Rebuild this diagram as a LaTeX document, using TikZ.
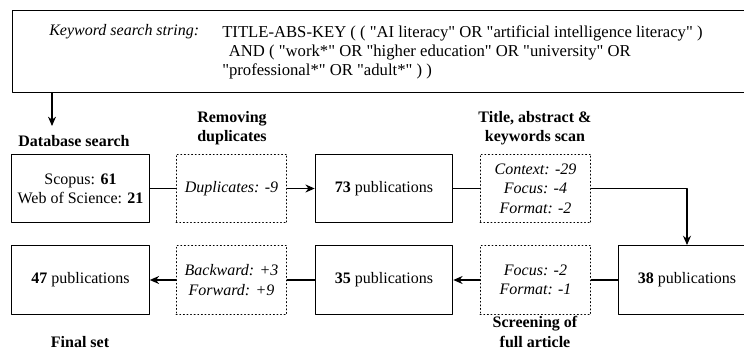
\documentclass[tikz,border=0pt,12pt]{standalone}
\usepackage{fontspec}
\setmainfont{Liberation Serif}[Ligatures=TeXOff, BoldFont={Liberation Serif Bold}, ItalicFont={Liberation Serif Italic}, BoldItalicFont={Liberation Serif Bold Italic}]
\usetikzlibrary{arrows.meta}
\newcommand{\dq}[1]{"#1"}

\tikzset{
  box/.style={draw, line width=0.9pt, minimum width=103pt, minimum height=51.5pt, inner sep=0pt, align=center},
  filt/.style={draw, dotted, line width=0.7pt, minimum width=83pt, minimum height=51.5pt, inner sep=0pt, align=center, font=\itshape},
  stage/.style={font=\bfseries, align=center, inner sep=0pt},
}

\begin{document}
\begin{tikzpicture}[line cap=round,line join=round,>={Stealth[length=7pt,width=6pt]},x=0.75pt,y=-0.75pt]
		\useasboundingbox (0,0) rectangle (744,360);
		\clip (0,0) rectangle (744,360);
		%%%%%%%%%%%%%%%%%%%%% S E A R C H %%%%%%%%%%%%%%%%%%%%%
		\node [draw, line width=0.9pt, anchor=north west, minimum width=562pt, minimum height=61.5pt, inner sep=0pt] (search) at (12,10) {};
		\node [anchor=base west, inner sep=0pt, font=\itshape] (kwlabel) at (49,36) {Keyword search string:};
		\node [anchor=north west, inner sep=0pt, align=left, font=\fontsize{12.5pt}{14.5pt}\selectfont] (query) at (222,25) {TITLE-ABS-KEY ( ( \dq{AI literacy} OR \dq{artificial intelligence literacy} )\\\hspace*{5pt}AND ( \dq{work*} OR \dq{higher education} OR \dq{university} OR\\\dq{professional*} OR \dq{adult*} ) )};
		\coordinate (dbin) at (52,126);

		%%%% ROW 1
		\node [box] (db) at (80.5,188.5) {Scopus: \textbf{61}\\Web of Science: \textbf{21}};
		\node [filt] (dup) at (231.5,188.5) {Duplicates: -9};
		\node [box] (p73) at (384,188.5) {\textbf{73} publications};
		\node [filt] (tas) at (535.5,188.5) {Context: -29\\Focus: -4\\Format: -2};

		%%%% ROW 2
		\node [box] (p38) at (687,280) {\textbf{38} publications};
		\node [filt] (ful) at (535.5,280) {Focus: -2\\Format: -1};
		\node [box] (p35) at (384,280) {\textbf{35} publications};
		\node [filt] (snow) at (231.5,280) {Backward: +3\\Forward: +9};
		\node [box] (p47) at (80.5,280) {\textbf{47} publications};

		%STAGES
		\node [stage] (s1) at (74,141) {Database search};
		\node [stage] (s2) at (232,128) {Removing\\duplicates};
		\node [stage] (s3) at (535,128) {Title, abstract \&\\keywords scan};
		\node [stage] (s4) at (535,332) {Screening of\\full article};
		\node [stage] (s5) at (80,342) {Final set};

		%%%% FLOW
		\draw [->,line width=0.9pt] (search.south -| dbin) -- (dbin);
		\draw [line width=0.9pt] (db) -- (dup);
		\draw [->,line width=0.9pt] (dup) -- (p73);
		\draw [line width=0.9pt] (p73) -- (tas);
		\draw [->,line width=0.9pt] (tas.east) -| (p38.north);
		\draw [line width=0.9pt] (p38) -- (ful);
		\draw [->,line width=0.9pt] (ful) -- (p35);
		\draw [line width=0.9pt] (p35) -- (snow);
		\draw [->,line width=0.9pt] (snow) -- (p47);
	\end{tikzpicture}
\end{document}
